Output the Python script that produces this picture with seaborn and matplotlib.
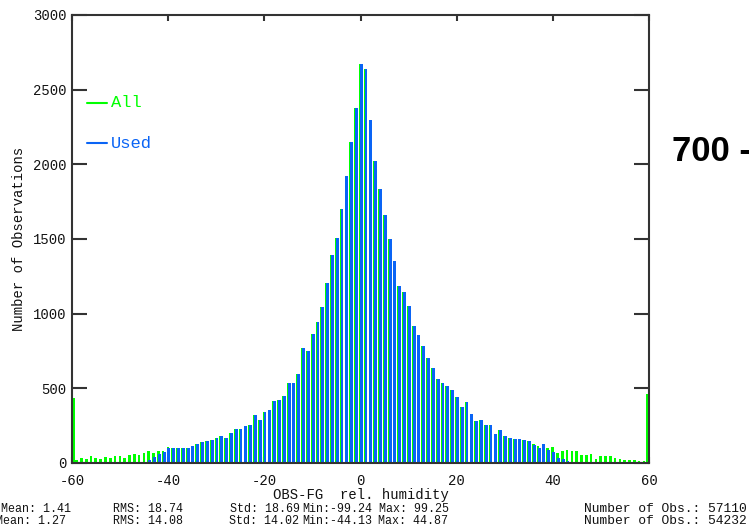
import numpy as np
import pandas as pd
import matplotlib
matplotlib.use("Agg")
import matplotlib.pyplot as plt
import seaborn as sns
from matplotlib.lines import Line2D

# ---- data ----
bin_centers = list(range(-60, 61))
all_counts = [
    435, 20, 36, 27, 45, 36, 27, 42, 36, 45,          # -60 .. -51
    45, 36, 51, 58, 51, 69, 78, 69, 78, 78,           # -50 .. -41
    107, 100, 100, 100, 100, 116, 125, 141, 150, 156, # -40 .. -31
    170, 178, 168, 199, 230, 230, 245, 254, 319, 286, # -30 .. -21
    344, 355, 415, 422, 449, 533, 533, 598, 768, 752, # -20 .. -11
    864, 946, 1042, 1203, 1393, 1509, 1701, 1924, 2152, 2379,  # -10 .. -1
    2670, 2640, 2297, 2022, 1835, 1661, 1500, 1355, 1187, 1143,  # 0 .. 9
    1054, 920, 857, 783, 705, 634, 560, 536, 518, 487,  # 10 .. 19
    440, 375, 406, 326, 283, 286, 254, 254, 196, 223,   # 20 .. 29
    181, 167, 158, 158, 156, 145, 125, 111, 129, 102,   # 30 .. 39
    104, 70, 81, 88, 79, 79, 54, 54, 63, 29,            # 40 .. 49
    45, 45, 45, 36, 29, 20, 20, 20, 14, 14,             # 50 .. 59
    461,                                                # 60
]
used_counts = [
    0, 0, 0, 0, 0, 0, 0, 0, 0, 0,
    0, 0, 0, 0, 0, 0, 22, 40, 58, 76,
    100, 100, 100, 100, 100, 116, 125, 141, 150, 156,
    170, 178, 168, 199, 230, 230, 245, 254, 319, 286,
    344, 355, 415, 422, 449, 533, 533, 598, 768, 752,
    864, 946, 1042, 1203, 1393, 1509, 1701, 1924, 2152, 2379,
    2670, 2640, 2297, 2022, 1835, 1661, 1500, 1355, 1187, 1143,
    1054, 920, 857, 783, 705, 634, 560, 536, 518, 487,
    440, 375, 406, 326, 283, 286, 254, 254, 196, 223,
    181, 167, 158, 158, 156, 145, 123, 100, 129, 84,
    77, 36, 29, 14, 5, 2, 0, 0, 0, 0,
    0, 0, 0, 0, 0, 0, 0, 0, 0, 0,
    0,
]
x_ticks = [-60, -40, -20, 0, 20, 40, 60]
y_ticks = [0, 500, 1000, 1500, 2000, 2500, 3000]
stats_all = ["Mean: 1.41", "RMS: 18.74", "Std: 18.69", "Min:-99.24", "Max: 99.25", "Number of Obs.: 57110"]
stats_used = ["Mean: 1.27", "RMS: 14.08", "Std: 14.02", "Min:-44.13", "Max: 44.87", "Number of Obs.: 54232"]

GREEN = "#00ff00"
BLUE = "#0a64f5"
INK = "#333333"

sns.set_style("ticks")
plt.rcParams["font.family"] = ["Liberation Mono", "DejaVu Sans"]
plt.rcParams["axes.unicode_minus"] = False

fig = plt.figure(figsize=(7.49, 5.30), dpi=100)
ax = fig.add_axes([72 / 749, 67 / 530, 577 / 749, 448 / 530])

centers = np.array(bin_centers, dtype=float)
df_all = pd.DataFrame({"x": centers - 0.05, "n": all_counts})
df_used = pd.DataFrame({"x": centers + 0.15, "n": used_counts})
inner = slice(1, len(bin_centers) - 1)
df_edge = pd.DataFrame({"x": centers[[0, -1]], "n": [all_counts[0], all_counts[-1]]})

# inner bins
sns.barplot(data=df_all.iloc[inner], x="x", y="n", native_scale=True, width=0.55,
            color=GREEN, saturation=1, errorbar=None, linewidth=0, ax=ax)
sns.barplot(data=df_used.iloc[inner], x="x", y="n", native_scale=True, width=0.6,
            color=BLUE, saturation=1, errorbar=None, linewidth=0, ax=ax)
# overflow bins at both ends (half hidden by the frame, as in the original)
sns.barplot(data=df_edge, x="x", y="n", native_scale=True, width=0.0108,
            color=GREEN, saturation=1, errorbar=None, linewidth=0, ax=ax)

ax.set_xlim(-60, 60)
ax.set_ylim(0, 3000)
ax.set_xticks(x_ticks)
ax.set_xticklabels([str(t) for t in x_ticks])
ax.set_yticks(y_ticks)
ax.set_yticklabels([str(t) for t in y_ticks])

for s in ax.spines.values():
    s.set_visible(True)
    s.set_color(INK)
    s.set_linewidth(1.5)

ax.tick_params(axis="x", direction="in", length=4, width=1.5, color=INK,
               top=True, bottom=True, pad=8, labelsize=10, labelcolor="#111111")
ax.tick_params(axis="y", direction="in", length=11, width=1.5, color=INK,
               left=True, right=True, pad=4, labelsize=10, labelcolor="#111111")

ax.set_xlabel("OBS-FG  rel. humidity", fontsize=10, labelpad=0, color="#111111")
ax.set_ylabel("Number of Observations", fontsize=10, labelpad=5, color="#111111")

# legend drawn as in the original (coloured short line + coloured text)
ax.add_line(Line2D([0.0255, 0.060], [0.804, 0.804], transform=ax.transAxes,
                   color=GREEN, linewidth=1.5))
ax.text(0.067, 0.804, "All", transform=ax.transAxes, color=GREEN,
        fontsize=12.3, va="center", ha="left")
ax.add_line(Line2D([0.0255, 0.060], [0.7136, 0.7136], transform=ax.transAxes,
                   color=BLUE, linewidth=1.5))
ax.text(0.067, 0.7136, "Used", transform=ax.transAxes, color=BLUE,
        fontsize=12.3, va="center", ha="left")

# statistics lines at the bottom
xs_all = [1, 113, 230, 302, 379]
xs_used = [-4, 113, 229, 302, 378]
for row, xs, y in ((stats_all, xs_all, 509), (stats_used, xs_used, 521)):
    for x0, t in zip(xs, row[:-1]):
        fig.text(x0 / 749, 1 - y / 530, t, fontsize=8.4, ha="left", va="center", color="#111111")
    fig.text(747 / 749, 1 - y / 530, row[-1], fontsize=9.4, ha="right", va="center", color="#111111")

fig.text(672 / 749, 1 - 152 / 530, "700 -", fontsize=25, fontweight="bold",
         family="Liberation Sans", ha="left", va="center", color="black")

fig.savefig("out.png", dpi=100)
